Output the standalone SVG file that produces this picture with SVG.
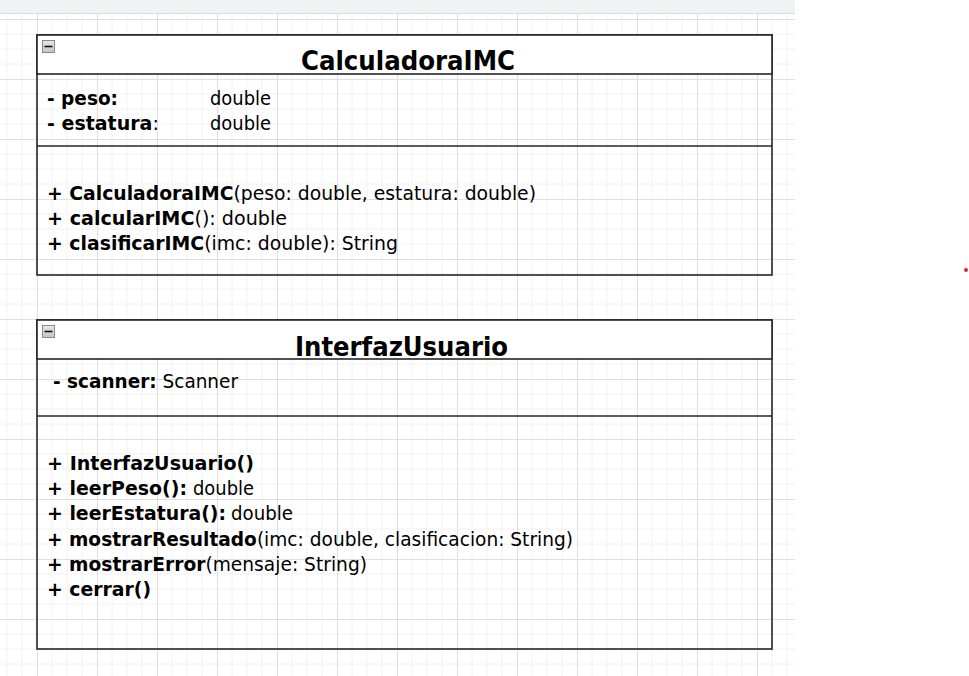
<svg xmlns="http://www.w3.org/2000/svg" width="969" height="676" viewBox="0 0 969 676">
<style>
  .box{fill:none;stroke:#262626;stroke-width:1.6}
  .hdr{fill:#ffffff;stroke:#262626;stroke-width:1.6}
  .div{stroke:#262626;stroke-width:1.6}
  .t{font-family:"DejaVu Sans","Liberation Sans",sans-serif;font-size:20px;fill:#000}
  .title{font-family:"DejaVu Sans","Liberation Sans",sans-serif;font-size:26px;font-weight:bold;fill:#000}
  .b{font-weight:bold}
</style>
<defs>
  <pattern id="grid" patternUnits="userSpaceOnUse" x="37" y="19" width="60" height="60">
    <path d="M15 0V60M30 0V60M45 0V60M0 15H60M0 30H60M0 45H60" stroke="#f2f2f2" stroke-width="1" fill="none"/>
    <path d="M0.5 0V60M0 0.5H60" stroke="#e0e0e0" stroke-width="1" fill="none"/>
  </pattern>
  <linearGradient id="btn" x1="0" y1="0" x2="0" y2="1">
    <stop offset="0" stop-color="#e8e8e8"/>
    <stop offset="1" stop-color="#c4c4c4"/>
  </linearGradient>
  <g id="collapse">
    <rect x="0.5" y="0.5" width="12" height="12" fill="url(#btn)" stroke="#8a8a8a" stroke-width="1"/>
    <line x1="2.5" y1="6.5" x2="10.5" y2="6.5" stroke="#111" stroke-width="1.6"/>
  </g>
</defs>
<rect x="0" y="0" width="969" height="676" fill="#ffffff"/>
<rect x="0" y="14" width="795" height="662" fill="url(#grid)"/>
<rect x="0" y="0" width="795" height="13" fill="#f1f2f4"/>
<line x1="0" y1="13.5" x2="795" y2="13.5" stroke="#dadce0" stroke-width="1"/>
<circle cx="966" cy="270" r="2" fill="#d9262b"/>

<g id="CalculadoraIMC">
  <rect class="box" x="37" y="35" width="735" height="240"/>
  <rect class="hdr" x="37" y="35" width="735" height="39"/>
  <use href="#collapse" x="42" y="40"/>
  <text class="title" x="301" y="70" textLength="214" lengthAdjust="spacingAndGlyphs">CalculadoraIMC</text>
  <line class="div" x1="37" y1="146" x2="772" y2="146"/>
  <text class="t b" x="47" y="105" textLength="71" lengthAdjust="spacingAndGlyphs">- peso:</text>
  <text class="t" x="210" y="105" textLength="61" lengthAdjust="spacingAndGlyphs">double</text>
  <text class="t" x="47" y="130" style="font-size:19px"><tspan class="b">- estatura</tspan>:</text>
  <text class="t" x="210" y="130" textLength="61" lengthAdjust="spacingAndGlyphs">double</text>
  <text class="t" x="47" y="200" textLength="489" lengthAdjust="spacingAndGlyphs"><tspan class="b">+ CalculadoraIMC</tspan>(peso: double, estatura: double)</text>
  <text class="t" x="47" y="225" textLength="240" lengthAdjust="spacingAndGlyphs"><tspan class="b">+ calcularIMC</tspan>(): double</text>
  <text class="t" x="47" y="250" textLength="351" lengthAdjust="spacingAndGlyphs"><tspan class="b">+ clasificarIMC</tspan>(imc: double): String</text>
</g>

<g id="InterfazUsuario">
  <rect class="box" x="37" y="320" width="735" height="329"/>
  <rect class="hdr" x="37" y="320" width="735" height="39"/>
  <use href="#collapse" x="42" y="325"/>
  <text class="title" x="295" y="356" textLength="213" lengthAdjust="spacingAndGlyphs">InterfazUsuario</text>
  <line class="div" x1="37" y1="416" x2="772" y2="416"/>
  <text class="t" x="53" y="388" textLength="185" lengthAdjust="spacingAndGlyphs"><tspan class="b">- scanner:</tspan> Scanner</text>
  <text class="t b" x="47" y="470" textLength="207" lengthAdjust="spacingAndGlyphs">+ InterfazUsuario()</text>
  <text class="t b" x="47" y="495" textLength="140" lengthAdjust="spacingAndGlyphs">+ leerPeso():</text>
  <text class="t" x="193" y="495" textLength="61" lengthAdjust="spacingAndGlyphs">double</text>
  <text class="t b" x="47" y="520" textLength="179" lengthAdjust="spacingAndGlyphs">+ leerEstatura():</text>
  <text class="t" x="231" y="520" textLength="62" lengthAdjust="spacingAndGlyphs">double</text>
  <text class="t" x="47" y="546" textLength="526" lengthAdjust="spacingAndGlyphs"><tspan class="b">+ mostrarResultado</tspan>(imc: double, clasificacion: String)</text>
  <text class="t" x="47" y="571" textLength="320" lengthAdjust="spacingAndGlyphs"><tspan class="b">+ mostrarError</tspan>(mensaje: String)</text>
  <text class="t b" x="47" y="596" textLength="104" lengthAdjust="spacingAndGlyphs">+ cerrar()</text>
</g>

<g id="connectors"></g>
</svg>
